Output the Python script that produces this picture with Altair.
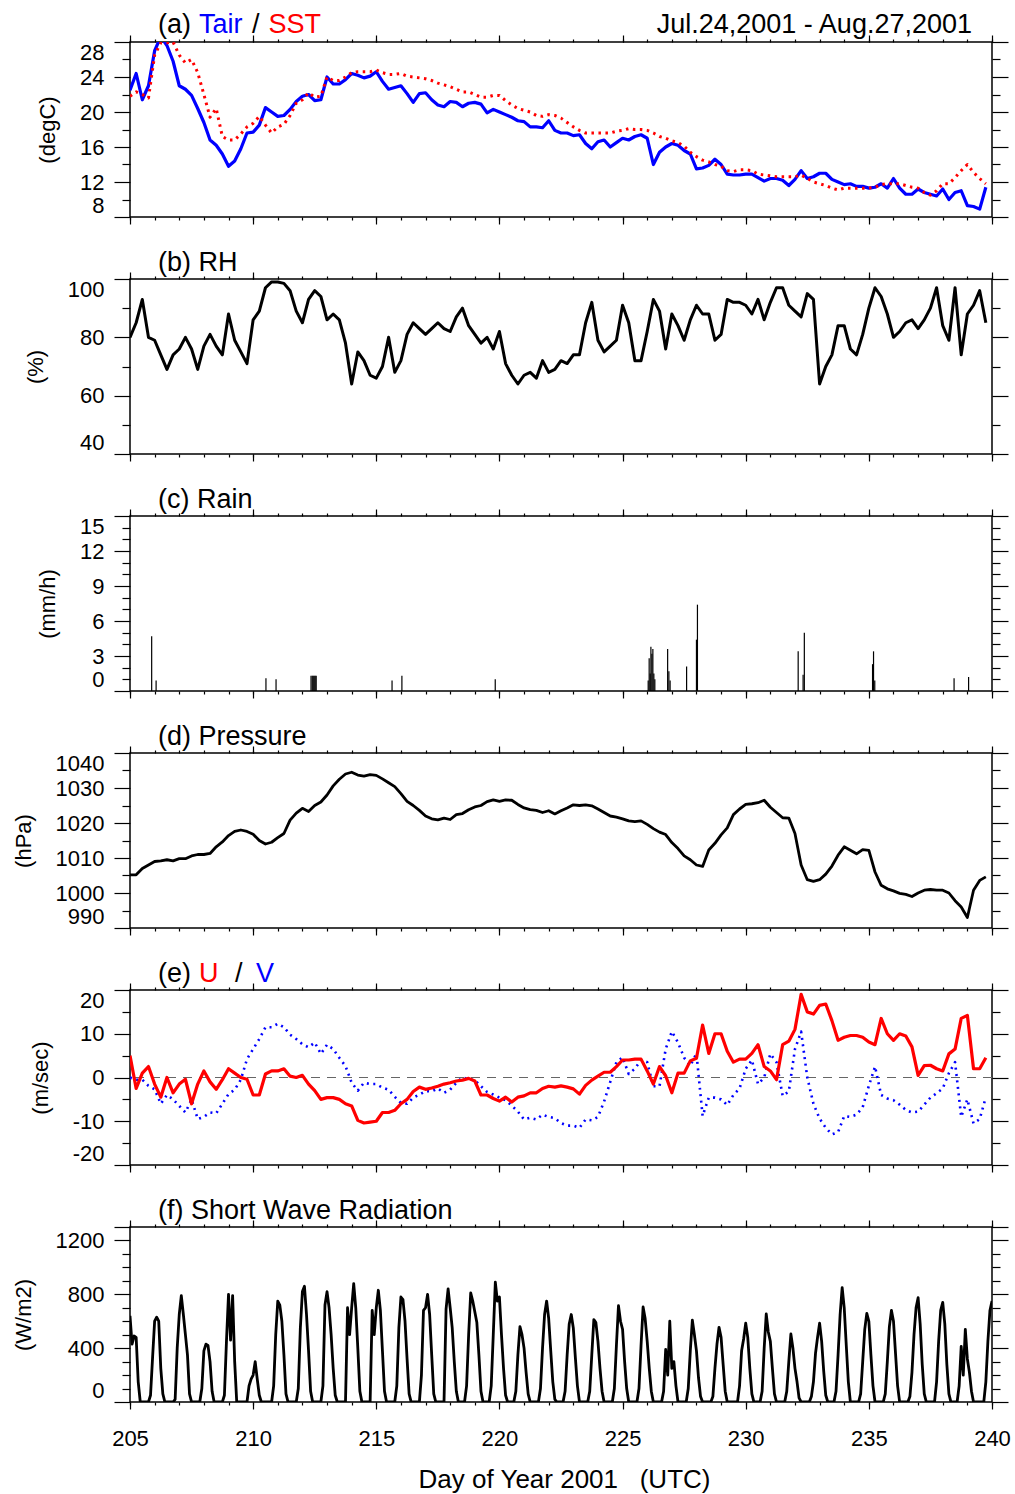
import altair as alt
import pandas as pd

FONT = "Liberation Sans"
BLUE = "#0000ff"
RED = "#ff0000"
WIDTH = 862
HEIGHT = 175

# Day-of-year axis (2001, UTC)
X_MAJOR = [205, 210, 215, 220, 225, 230, 235, 240]
X_MINOR = list(range(205, 241))

# 6-hourly sample times
TIMES = [205 + i / 4 for i in range(140)]

# (a) air temperature, degC
TAIR = [
    22.5, 24.4, 21.4, 23.0, 27.0, 28.6, 27.6, 25.8, 23.0, 22.6, 21.9, 20.4,
    18.8, 16.8, 16.2, 15.2, 13.8, 14.4, 15.8, 17.6, 17.7, 18.5, 20.5, 20.0,
    19.5, 19.6, 20.3, 21.2, 21.8, 22.0, 21.3, 21.4, 24.0, 23.2, 23.2, 23.7,
    24.4, 24.2, 23.9, 24.1, 24.6, 23.5, 22.6, 22.8, 23.0, 22.1, 21.1, 22.1,
    22.2, 21.4, 20.8, 20.6, 21.2, 21.1, 20.6, 21.0, 21.1, 20.9, 19.9, 20.3,
    20.0, 19.7, 19.4, 19.0, 18.9, 18.3, 18.3, 18.2, 19.0, 17.9, 17.6, 17.6,
    17.3, 17.4, 16.4, 15.8, 16.6, 16.8, 16.0, 16.5, 17.0, 16.8, 17.2, 17.4,
    17.0, 14.0, 15.4, 16.0, 16.4, 16.2, 15.6, 15.2, 13.5, 13.6, 13.9, 14.6,
    14.0, 12.9, 12.8, 12.8, 12.9, 12.9, 12.5, 12.1, 12.4, 12.4, 12.2, 11.6,
    12.3, 13.3, 12.4, 12.6, 13.0, 13.0, 12.3, 12.0, 11.7, 11.8, 11.5, 11.5,
    11.3, 11.4, 11.8, 11.3, 12.4, 11.3, 10.6, 10.6, 11.2, 10.8, 10.6, 10.4,
    11.2, 10.0, 10.8, 11.0, 9.3, 9.2, 8.9, 11.4,
]

# (a) sea surface temperature, degC
SST = [
    21.8, 22.3, 22.0, 21.6, 26.5, 27.9, 27.9, 28.0, 26.5, 25.6, 26.0, 24.5,
    22.0, 19.4, 20.4, 17.2, 16.8, 16.8, 17.5, 18.3, 18.7, 19.5, 18.5, 17.6,
    18.3, 18.6, 19.6, 21.0, 21.4, 22.2, 21.7, 21.8, 24.0, 23.6, 23.6, 24.0,
    24.5, 24.6, 24.6, 24.6, 24.8, 24.5, 24.3, 24.3, 24.4, 24.1, 24.0, 23.9,
    23.8, 23.6, 23.3, 23.1, 22.9, 22.6, 22.3, 22.3, 22.0, 21.7, 21.7, 21.9,
    21.9, 21.3, 20.8, 20.4, 20.2, 20.0, 19.6, 19.5, 19.7, 19.6, 19.3, 18.8,
    18.3, 17.9, 17.6, 17.6, 17.6, 17.6, 17.6, 17.8, 17.9, 18.1, 18.0, 18.0,
    17.9, 17.6, 17.2, 17.0, 16.7, 16.5, 16.1, 15.4, 14.9, 14.5, 14.3, 14.0,
    13.8, 13.3, 13.2, 13.4, 13.4, 13.3, 12.9, 12.8, 12.7, 12.6, 12.6, 12.6,
    12.6, 12.8, 12.4, 12.0, 11.8, 11.6, 11.3, 11.1, 11.3, 11.3, 11.3, 11.3,
    11.3, 11.4, 11.7, 11.8, 11.8, 11.8, 11.6, 11.4, 11.3, 10.8, 10.5, 11.0,
    11.8, 11.8, 12.5, 13.3, 14.0, 13.1, 12.4, 11.8,
]

# (b) relative humidity, %
RH = [
    80, 85, 93, 80, 79, 74, 69, 74, 76, 80, 76, 69,
    77, 81, 77, 74, 88, 79, 75, 71, 86, 89, 97, 99,
    99, 98.5, 96, 89, 85, 93, 96, 94, 86, 88, 86, 78,
    64, 75, 72, 67, 66, 70, 80, 68, 72, 81, 85, 83,
    81, 83, 85, 83, 82, 87, 90, 84, 81, 78, 80, 76,
    82, 71, 67, 64, 67, 68, 66, 72, 68, 69, 72, 71,
    74, 74, 85, 92, 79, 75, 77, 79, 91, 85, 72, 72,
    82, 93, 89, 76, 88, 84, 79, 86, 91, 88, 88, 79,
    81, 93, 92, 92, 91, 88, 93, 86, 92, 97, 97, 91,
    89, 87, 95, 93, 64, 70, 74, 84, 84, 76, 74, 81,
    90, 97, 94, 88, 80, 82, 85, 86, 83, 86, 90, 97,
    84, 79, 97, 74, 88, 91, 96, 85,
]

# (c) hourly rain events: time and rate, mm/h
RAIN_DAY = [
    205.88, 206.06, 210.52, 210.93, 212.35, 212.40, 212.44, 212.48, 212.52,
    212.56, 215.64, 216.04, 219.83, 226.04, 226.08, 226.12, 226.15, 226.19,
    226.23, 226.27, 226.31, 226.83, 226.88, 226.93, 227.60, 228.00, 228.04,
    232.13, 232.33, 232.38, 235.15, 235.19, 235.24, 238.46, 239.05,
]
RAIN_MM = [
    4.7, 0.9, 1.1, 1.0, 1.3, 1.3, 1.3, 1.3, 1.3,
    1.3, 0.9, 1.3, 1.0, 0.9, 2.8, 1.5, 3.8, 3.2,
    3.6, 1.5, 1.0, 3.6, 1.7, 0.9, 2.1, 4.4, 7.4,
    3.4, 1.4, 5.0, 2.3, 3.4, 0.9, 1.1, 1.2,
]

# (d) sea level pressure, hPa
PRESSURE = [
    1005.2, 1005.2, 1007.0, 1008.0, 1009.0, 1009.2, 1009.5, 1009.2,
    1009.8, 1009.8, 1010.6, 1011.0, 1011.0, 1011.3, 1013.2, 1014.6,
    1016.4, 1017.6, 1018.0, 1017.6, 1016.8, 1015.0, 1014.0, 1014.5,
    1015.8, 1017.0, 1020.8, 1022.8, 1024.2, 1023.3, 1025.0, 1026.0,
    1028.0, 1030.6, 1032.5, 1034.0, 1034.5, 1033.7, 1033.4, 1033.8,
    1033.6, 1032.6, 1031.5, 1030.4, 1028.4, 1026.2, 1025.0, 1023.6,
    1022.0, 1021.2, 1020.9, 1021.4, 1021.0, 1022.4, 1022.7, 1023.8,
    1024.6, 1025.0, 1026.1, 1026.6, 1026.2, 1026.6, 1026.5, 1025.3,
    1024.3, 1023.8, 1023.6, 1023.0, 1023.5, 1022.6, 1023.5, 1024.3,
    1025.2, 1025.0, 1025.2, 1024.9, 1024.0, 1023.0, 1022.0, 1021.7,
    1021.2, 1020.6, 1020.4, 1020.6, 1019.6, 1018.4, 1017.4, 1016.7,
    1014.4, 1012.7, 1010.6, 1009.5, 1008.0, 1007.6, 1012.3, 1014.2,
    1016.6, 1018.6, 1022.4, 1024.0, 1025.3, 1025.5, 1025.8, 1026.5,
    1024.5, 1023.0, 1021.5, 1021.4, 1017.0, 1008.0, 1003.8, 1003.3,
    1003.8, 1005.4, 1007.7, 1010.8, 1013.2, 1012.2, 1011.2, 1012.4,
    1012.2, 1006.0, 1002.2, 1001.2, 1000.6, 999.9, 999.6, 999.0,
    1000.0, 1000.8, 1001.0, 1000.8, 1000.8, 1000.0, 997.8, 996.0,
    993.0, 1000.8, 1003.6, 1004.6,
]

# (e) zonal wind U, m/s
U_WIND = [
    5.0, -2.5, 1.0, 2.5, -1.5, -4.5, 0.0, -3.5, -1.5, -0.4, -6.0, -1.5,
    1.5, -1.0, -2.7, -0.5, 2.0, 1.0, 0.0, -0.4, -4.0, -4.0, 0.8, 1.5,
    1.5, 2.0, 0.3, 0.0, 0.5, -1.5, -3.0, -5.0, -4.6, -4.6, -5.0, -6.0,
    -6.5, -9.8, -10.4, -10.2, -10.0, -8.0, -8.0, -7.5, -6.0, -5.0, -3.2, -2.2,
    -2.7, -2.4, -2.0, -1.5, -1.2, -0.8, -0.6, -0.2, -0.8, -4.0, -4.0, -4.8,
    -5.4, -4.5, -5.6, -4.5, -4.2, -3.5, -3.5, -2.5, -2.0, -2.2, -1.9, -2.2,
    -2.6, -3.8, -1.8, -0.6, 0.3, 1.2, 1.2, 2.5, 4.0, 4.0, 4.2, 4.2,
    1.5, -1.5, 2.5, 0.4, -3.5, 1.0, 1.0, 3.8, 4.4, 12.0, 5.5, 10.0,
    10.0, 6.0, 3.5, 4.2, 4.2, 5.5, 7.5, 2.5, 1.5, -0.5, 7.5, 8.3,
    11.0, 19.0, 15.0, 14.5, 16.5, 16.8, 13.0, 8.5, 9.2, 9.6, 9.6, 9.2,
    8.1, 7.5, 13.5, 10.0, 8.5, 10.0, 9.5, 7.0, 0.5, 2.7, 2.8, 2.0,
    1.5, 5.4, 6.5, 13.5, 14.2, 2.0, 2.0, 4.5,
]

# (e) meridional wind V, m/s
V_WIND = [
    0.0, -0.5, -0.5, -1.9, -2.7, -6.0, -4.0, -5.0, -6.5, -8.0, -5.0, -9.5,
    -9.0, -8.0, -8.2, -6.0, -3.8, -2.8, -0.5, 4.2, 6.5, 8.8, 11.5, 11.5,
    12.3, 11.5, 9.8, 8.8, 7.6, 6.9, 8.0, 5.4, 7.5, 6.5, 4.5, 2.6,
    -1.2, -3.0, -1.2, -1.5, -1.5, -2.3, -2.8, -4.4, -5.8, -6.0, -4.6, -3.9,
    -3.1, -3.2, -2.5, -3.5, -2.8, -1.2, 0.0, -0.4, -0.6, -2.0, -3.3, -3.9,
    -4.6, -5.2, -6.4, -7.8, -9.6, -9.2, -9.6, -8.5, -9.0, -9.3, -10.4, -11.0,
    -11.0, -11.5, -9.6, -9.8, -9.0, -5.5, -1.0, 3.5, 4.6, 0.8, 2.0, 4.0,
    3.5, -2.0, -2.0, 6.5, 10.5, 8.0, 4.5, 2.7, 5.5, -8.8, -4.6, -4.6,
    -5.0, -6.3, -4.0, -2.5, 2.0, 4.0, -1.5, 0.0, 5.4, 3.5, -4.2, -3.2,
    6.5, 10.5, 0.0, -6.0, -9.4, -11.5, -13.0, -12.5, -8.8, -9.0, -8.5, -6.8,
    -1.9, 2.5, -4.0, -4.8, -5.2, -6.2, -7.4, -8.0, -7.8, -6.2, -4.6, -3.6,
    -2.5, 1.0, 3.5, -9.0, -5.0, -10.5, -9.5, -4.5,
]

# (f) downward short wave radiation, W/m2: one row per day, 00..22 UTC every 2 h
SW_FIRST_DAY = 205
SW_ROWS = [
    [640, 430, 490, 480, 150, 0, 0, 0, 0, 0, 50, 330],
    [600, 630, 600, 250, 60, 0, 0, 0, 0, 0, 20, 400],
    [650, 790, 650, 500, 350, 60, 0, 0, 0, 0, 0, 100],
    [380, 430, 420, 300, 80, 0, 0, 0, 0, 0, 50, 450],
    [800, 460, 790, 300, 0, 0, 0, 0, 0, 0, 120, 170],
    [200, 300, 170, 50, 0, 0, 0, 0, 0, 0, 120, 500],
    [750, 720, 600, 350, 60, 0, 0, 0, 0, 0, 100, 550],
    [820, 860, 650, 380, 80, 0, 0, 0, 0, 0, 120, 720],
    [820, 700, 500, 250, 50, 0, 0, 0, 0, 0, 700, 500],
    [700, 880, 700, 400, 80, 0, 0, 0, 0, 0, 680, 500],
    [700, 830, 680, 380, 80, 0, 0, 0, 0, 0, 120, 550],
    [780, 760, 600, 320, 60, 0, 0, 0, 0, 0, 200, 680],
    [700, 800, 650, 350, 60, 0, 0, 0, 0, 0, 690, 840],
    [700, 550, 300, 80, 0, 0, 0, 0, 120, 500, 810, 750],
    [670, 590, 350, 80, 0, 0, 0, 0, 120, 500, 890, 750],
    [780, 500, 250, 50, 0, 0, 0, 0, 80, 350, 560, 500],
    [400, 220, 60, 0, 0, 0, 0, 0, 100, 400, 650, 750],
    [620, 380, 150, 20, 0, 0, 0, 0, 80, 350, 580, 650],
    [550, 330, 120, 0, 0, 0, 0, 0, 80, 350, 612, 590],
    [450, 250, 80, 0, 0, 0, 0, 0, 100, 420, 715, 600],
    [540, 300, 100, 0, 0, 0, 0, 0, 100, 420, 706, 620],
    [450, 250, 80, 0, 0, 0, 0, 0, 80, 390, 200, 600],
    [250, 300, 120, 0, 0, 0, 0, 0, 100, 380, 608, 500],
    [380, 180, 40, 0, 0, 0, 0, 0, 40, 250, 430, 555],
    [480, 280, 80, 0, 0, 0, 0, 0, 0, 120, 380, 470],
    [585, 480, 250, 60, 0, 0, 0, 0, 80, 400, 654, 520],
    [450, 250, 60, 0, 0, 0, 0, 0, 80, 300, 505, 400],
    [250, 150, 30, 0, 0, 0, 0, 0, 40, 150, 360, 480],
    [585, 450, 230, 50, 0, 0, 0, 0, 80, 350, 650, 850],
    [700, 420, 150, 0, 0, 0, 0, 0, 60, 300, 540, 658],
    [600, 350, 120, 0, 0, 0, 0, 0, 60, 300, 560, 681],
    [600, 360, 120, 0, 0, 0, 0, 0, 40, 220, 500, 700],
    [775, 580, 280, 60, 0, 0, 0, 0, 0, 150, 450, 680],
    [740, 580, 280, 60, 0, 0, 0, 0, 120, 413, 200, 540],
    [320, 220, 80, 0, 0, 0, 0, 0, 0, 150, 450, 680],
]
SW_END = (240.0, 750)

# ---------------------------------------------------------------- tables
six_hourly = pd.DataFrame({
    "day": TIMES, "tair": TAIR, "sst": SST, "rh": RH,
    "pres": PRESSURE, "u": U_WIND, "v": V_WIND,
})
rain = pd.DataFrame({"day": RAIN_DAY, "mm": RAIN_MM, "base": [0.0] * len(RAIN_DAY)})

sw_day, sw_val = [], []
for r, row in enumerate(SW_ROWS):
    for k, val in enumerate(row):
        sw_day.append(SW_FIRST_DAY + r + k / 12)
        sw_val.append(val)
sw_day.append(SW_END[0])
sw_val.append(SW_END[1])
shortwave = pd.DataFrame({"day": sw_day, "sw": sw_val})

one_row = alt.Data(values=[{}])

# ---------------------------------------------------------------- axes
X_SCALE = alt.Scale(domain=[205, 240], nice=False, zero=False)
AX = dict(grid=False, domain=False, tickColor="black", tickWidth=1.2,
          labelFont=FONT, labelFontSize=22, labelColor="black",
          titleFont=FONT, titleFontSize=22, titleFontWeight="normal",
          titleColor="black")
# plain integer labels with an ASCII minus sign; a value given as `hidden` stays unlabeled
PLAIN = "'' + datum.value"


def axis(**kw):
    return alt.Axis(**{**AX, **kw})


def frame(df, yfield, yscale, ymajor, yminor, ytitle, bottom_labels=False, hidden=None):
    """Invisible layers that carry the four framed axes with major/minor ticks."""
    if bottom_labels:
        bottom_major = axis(orient="bottom", values=X_MAJOR, tickSize=7,
                            labels=True, labelFlush=False, labelOverlap=False,
                            labelPadding=19,
                            title="Day of Year 2001\u00a0\u00a0 (UTC)",
                            titleFontSize=26, titleBaseline="alphabetic",
                            titleY=85, titleX=434)
    else:
        bottom_major = axis(orient="bottom", values=X_MAJOR, tickSize=7,
                            labels=False, title=None)
    bottom_minor = axis(orient="bottom", values=X_MINOR, tickSize=3,
                        labels=False, title=None)
    top_major = axis(orient="top", values=X_MAJOR, tickSize=7,
                     labels=False, title=None)
    top_minor = axis(orient="top", values=X_MINOR, tickSize=3,
                     labels=False, title=None)
    expr = PLAIN if hidden is None else f"datum.value == {hidden} ? '' : {PLAIN}"
    left_major = axis(orient="left", values=ymajor, tickSize=16,
                      labelPadding=10, labelFlush=True, labelOverlap=False,
                      labelExpr=expr, title=ytitle, titlePadding=20)
    left_minor = axis(orient="left", values=yminor, tickSize=8,
                      labels=False, title=None)
    right_major = axis(orient="right", values=ymajor, tickSize=16,
                       labels=False, title=None)
    right_minor = axis(orient="right", values=yminor, tickSize=8,
                       labels=False, title=None)
    pairs = [(bottom_major, left_major), (bottom_minor, left_minor),
             (top_major, right_major), (top_minor, right_minor)]
    return [
        alt.Chart(df).mark_line(opacity=0).encode(
            x=alt.X("day:Q", scale=X_SCALE, axis=xa),
            y=alt.Y(f"{yfield}:Q", scale=yscale, axis=ya),
        )
        for xa, ya in pairs
    ]


def series(df, field, yscale, color, width, dash=None):
    kw = dict(color=color, strokeWidth=width, clip=True, strokeJoin="round")
    if dash:
        kw["strokeDash"] = dash
    return alt.Chart(df).mark_line(**kw).encode(
        x=alt.X("day:Q", scale=X_SCALE, axis=None),
        y=alt.Y(f"{field}:Q", scale=yscale, axis=None),
    )


def label(txt, x, color="black", y=-8, align="left", size=27):
    return alt.Chart(one_row).mark_text(
        text=txt, align=align, baseline="alphabetic", font=FONT,
        fontSize=size, color=color,
    ).encode(x=alt.value(x), y=alt.value(y))


def panel(layers):
    return alt.layer(*layers).resolve_axis(x="independent", y="independent").properties(
        width=WIDTH, height=HEIGHT)


# (a) temperatures
ya = alt.Scale(domain=[8, 28], nice=False, zero=False)
pin = alt.Chart(one_row).mark_rule(color="white", strokeWidth=1).encode(
    x=alt.value(-128.5), x2=alt.value(-127.5), y=alt.value(-40), y2=alt.value(-39))
panel_a = panel(
    frame(six_hourly, "tair", ya, [8, 12, 16, 20, 24, 28], [10, 14, 18, 22, 26], "(degC)")
    + [
        series(six_hourly, "tair", ya, BLUE, 3.2),
        series(six_hourly, "sst", ya, RED, 3, [2.5, 4.5]),
        label("(a)", 28, y=-9.5),
        label("Tair", 69, BLUE, y=-9.5),
        label("/", 122, y=-9.5),
        label("SST", 138.5, RED, y=-9.5),
        label("Jul.24,2001 - Aug.27,2001", 842, y=-9.5, align="right"),
        pin,
    ]
)

# (b) relative humidity
yb = alt.Scale(domain=[40, 100], nice=False, zero=False)
panel_b = panel(
    frame(six_hourly, "rh", yb, [40, 60, 80, 100], [50, 70, 90], "(%)")
    + [series(six_hourly, "rh", yb, "black", 3), label("(b) RH", 28)]
)

# (c) rain
yc = alt.Scale(domain=[0, 15], nice=False, zero=False)
rain_bars = alt.Chart(rain).mark_rule(color="black", strokeWidth=1.2).encode(
    x=alt.X("day:Q", scale=X_SCALE, axis=None),
    y=alt.Y("mm:Q", scale=yc, axis=None),
    y2="base:Q",
)
panel_c = panel(
    frame(rain, "mm", yc, [0, 3, 6, 9, 12, 15],
          [1, 2, 4, 5, 7, 8, 10, 11, 13, 14], "(mm/h)")
    + [rain_bars, label("(c) Rain", 28)]
)

# (d) pressure
yd = alt.Scale(domain=[990, 1040], nice=False, zero=False)
panel_d = panel(
    frame(six_hourly, "pres", yd, [990, 1000, 1010, 1020, 1030, 1040],
          [995, 1005, 1015, 1025, 1035], "(hPa)")
    + [series(six_hourly, "pres", yd, "black", 2.8), label("(d) Pressure", 28)]
)

# (e) wind components
ye = alt.Scale(domain=[-20, 20], nice=False, zero=False)
zero_line = alt.Chart(pd.DataFrame({"zero": [0.0]})).mark_rule(
    color="#666666", strokeWidth=1.2, strokeDash=[9, 7]).encode(
    y=alt.Y("zero:Q", scale=ye, axis=None))
panel_e = panel(
    frame(six_hourly, "u", ye, [-20, -10, 0, 10, 20], [-15, -5, 5, 15], "(m/sec)")
    + [
        zero_line,
        series(six_hourly, "v", ye, BLUE, 2.6, [2, 4.5]),
        series(six_hourly, "u", ye, RED, 3.2),
        label("(e)", 28),
        label("U", 69, RED),
        label("/", 105),
        label("V", 126, BLUE),
    ]
)

# (f) short wave radiation
yf = alt.Scale(domain=[0, 1300], nice=False, zero=False)
panel_f = panel(
    frame(shortwave, "sw", yf, [0, 400, 800, 1200, 1300],
          [100, 200, 300, 500, 600, 700, 900, 1000, 1100], "(W/m2)",
          bottom_labels=True, hidden=1300)
    + [series(shortwave, "sw", yf, "black", 2.8), label("(f) Short Wave Radiation", 28)]
)

chart = alt.vconcat(
    panel_a, panel_b, panel_c, panel_d, panel_e, panel_f, spacing=62, bounds="flush"
).properties(padding=0, background="white").configure_view(
    stroke="black", strokeWidth=1.5)

chart.save("out.html", embed_options={"renderer": "svg", "actions": False})
